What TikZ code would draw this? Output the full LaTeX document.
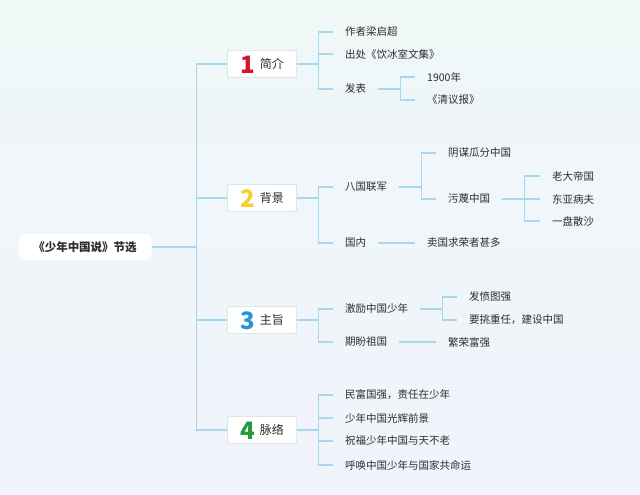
\documentclass[tikz,border=0pt]{standalone}
\usepackage{fontspec}
\newfontfamily\cjk{Noto Sans CJK SC}
\usetikzlibrary{positioning}
\definecolor{linkblue}{RGB}{166,216,239}
\definecolor{boxline}{RGB}{176,203,192}
\definecolor{bgtop}{RGB}{239,247,247}
\definecolor{bgbot}{RGB}{241,244,252}
\definecolor{ink}{RGB}{45,45,45}
\definecolor{numred}{RGB}{215,21,42}
\definecolor{numyellow}{RGB}{246,207,47}
\definecolor{numblue}{RGB}{36,150,214}
\definecolor{numgreen}{RGB}{36,154,60}
\newcommand{\topicnum}[2]{\raisebox{-4.5pt}[0pt][0pt]{\color{#1}\fontsize{24}{24}\selectfont\bfseries #2}\hspace{5pt}}

\begin{document}
\begin{tikzpicture}[
  x=1pt, y=-1pt,
  root/.style={fill=white, rounded corners=6pt, minimum width=133pt, minimum height=26pt, font=\cjk\fontsize{11.5}{12}\selectfont\bfseries, text=ink},
  topic/.style={draw=boxline, fill=white, rounded corners=1pt, minimum width=69pt, minimum height=27pt, inner sep=0pt, font=\cjk\fontsize{12}{13}\selectfont, text=ink},
  leaf/.style={anchor=west, inner xsep=12pt, inner ysep=2pt, font=\cjk\fontsize{10.5}{12}\selectfont, text=ink},
  link/.style={draw=linkblue, line width=1.1pt}
]
\shade[top color=bgtop, bottom color=bgbot] (0,0) rectangle (640,495);
\useasboundingbox (0,0) rectangle (640,495);

% root and topics
\node[root] (root) at (85,247) {《少年中国说》节选};
\node[topic] (intro) at (262,64) {\topicnum{numred}{1}简介};
\node[topic] (bg) at (262,198) {\topicnum{numyellow}{2}背景};
\node[topic] (theme) at (262,320) {\topicnum{numblue}{3}主旨};
\node[topic] (thread) at (262,430) {\topicnum{numgreen}{4}脉络};

\foreach \t in {intro,bg,theme,thread}
  \draw[link] (root.east) -- ++(45,0) |- (\t.west);

% 1 简介
\node[leaf] (author) at (333,32) {作者梁启超};
\node[leaf] (source) at (333,54) {出处《饮冰室文集》};
\node[leaf] (pub) at (333,89) {发表};
\node[leaf] (year) at (415,77) {1900年};
\node[leaf] (paper) at (415,100) {《清议报》};
\foreach \c in {author,source,pub}
  \draw[link] (intro.east) -- ++(22,0) |- (\c.west);
\foreach \c in {year,paper}
  \draw[link] (pub.east) -- ++(22,0) |- (\c.west);

% 2 背景
\node[leaf] (allies) at (333,187) {八国联军};
\node[leaf] (home) at (333,243) {国内};
\node[leaf] (plot) at (436,153) {阴谋瓜分中国};
\node[leaf] (smear) at (436,199) {污蔑中国};
\node[leaf] (empire) at (540,176) {老大帝国};
\node[leaf] (sick) at (540,199) {东亚病夫};
\node[leaf] (sand) at (540,221) {一盘散沙};
\node[leaf] (traitor) at (415,243) {卖国求荣者甚多};
\foreach \c in {allies,home}
  \draw[link] (bg.east) -- ++(22,0) |- (\c.west);
\foreach \c in {plot,smear}
  \draw[link] (allies.east) -- ++(22,0) |- (\c.west);
\foreach \c in {empire,sick,sand}
  \draw[link] (smear.east) -- ++(22,0) |- (\c.west);
\draw[link] (home.east) -- (traitor.west);

% 3 主旨
\node[leaf] (youth) at (333,309) {激励中国少年};
\node[leaf] (hope) at (333,342) {期盼祖国};
\node[leaf] (strive) at (457,297) {发愤图强};
\node[leaf] (duty) at (457,320) {要挑重任，建设中国};
\node[leaf] (prosper) at (436,342) {繁荣富强};
\foreach \c in {youth,hope}
  \draw[link] (theme.east) -- ++(22,0) |- (\c.west);
\foreach \c in {strive,duty}
  \draw[link] (youth.east) -- ++(22,0) |- (\c.west);
\draw[link] (hope.east) -- (prosper.west);

% 4 脉络
\node[leaf] (rich) at (333,395) {民富国强，责任在少年};
\node[leaf] (bright) at (333,418) {少年中国光辉前景};
\node[leaf] (bless) at (333,441) {祝福少年中国与天不老};
\node[leaf] (call) at (333,465) {呼唤中国少年与国家共命运};
\foreach \c in {rich,bright,bless,call}
  \draw[link] (thread.east) -- ++(22,0) |- (\c.west);
\end{tikzpicture}
\end{document}
